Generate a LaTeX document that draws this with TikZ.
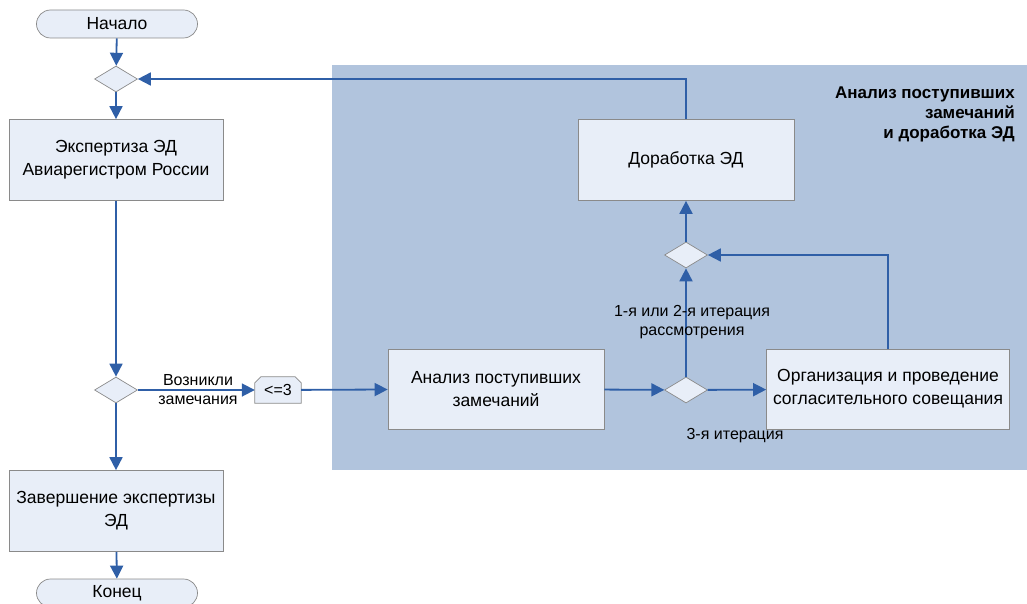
\documentclass[tikz,border=0pt]{standalone}
\usepackage{fontspec}
\setmainfont{Liberation Sans}
\usetikzlibrary{arrows.meta,calc,shapes.geometric}
\definecolor{arr}{HTML}{2F5FA7}
\definecolor{boxfill}{HTML}{E8EEF8}
\definecolor{boxline}{HTML}{8A8A8A}
\definecolor{zone}{HTML}{B1C4DD}
\tikzset{
  flow/.style={draw=arr,line width=1.8pt,-{Triangle[length=13pt,width=13pt]}},
  procbox/.style={draw=boxline,fill=boxfill,line width=0.7pt,minimum width=214pt,minimum height=81pt,align=center,font=\fontsize{17.5}{23}\selectfont,inner sep=0pt},
  term/.style={draw=boxline,fill=boxfill,line width=0.7pt,minimum width=161pt,minimum height=28pt,rounded corners=14pt,font=\fontsize{17.5}{20}\selectfont,inner sep=0pt},
  dec/.style={draw=boxline,fill=boxfill,line width=0.7pt,shape=diamond,aspect=1.65,minimum width=43pt,minimum height=26pt,inner sep=0pt},
  lbl/.style={align=center,font=\fontsize{16}{19}\selectfont,inner sep=0pt},
  limtext/.style={minimum width=46pt,minimum height=26pt,inner sep=0pt,font=\fontsize{16}{18}\selectfont},
}
\begin{document}
\begin{tikzpicture}[x=1pt,y=-1pt]
\useasboundingbox (0,0) rectangle (1027,604);
\fill[zone] (332,65) rectangle (1027,470);
\node[term] (start) at (117,24) {Начало};
\node[dec] (d1) at (116,79) {};
\node[procbox] (exp) at (116,160) {Экспертиза ЭД\\Авиарегистром России};
\node[dec] (d2) at (116,390) {};
\node[procbox] (fin) at (116,511) {Завершение экспертизы\\ЭД};
\node[term] (end) at (117,593) {Конец};
\node[limtext] (lim) at (278,390) {};
\fill[boxfill,draw=boxline,line width=0.7pt] (lim.south west) -- ($(lim.north west)+(0,6)$) -- ($(lim.north west)+(6,0)$) -- ($(lim.north east)+(-6,0)$) -- ($(lim.north east)+(0,6)$) -- (lim.south east) -- cycle;
\node[limtext] (limlabel) at (lim) {<=3};
\node[procbox,minimum width=216pt,minimum height=80pt] (an) at (496,389) {Анализ поступивших\\замечаний};
\node[dec] (d3) at (686,390) {};
\node[procbox,minimum width=243pt,minimum height=80pt] (org) at (888,389) {Организация и проведение\\согласительного совещания};
\node[dec] (d4) at (686,255) {};
\node[procbox,minimum width=216pt,minimum height=81pt] (dor) at (686,160) {Доработка ЭД};
\node[align=right,anchor=north east,font=\fontsize{17}{20}\selectfont\bfseries,inner sep=0pt] (title) at (1015,87) {Анализ поступивших\\замечаний\\и доработка ЭД};
\draw[flow] (start) -- (d1);
\draw[flow] (d1) -- (exp);
\draw[flow] (exp) -- (d2);
\draw[flow] (d2) -- (fin);
\draw[flow] (fin) -- (end);
\draw[flow] (d2) -- (lim);
\draw[flow] (lim) -- (an);
\draw[flow] (an) -- (d3);
\draw[flow] (d3) -- (org);
\draw[flow] (d3) -- (d4);
\draw[flow] (d4) -- (dor);
\draw[flow] (org.north -| 888,0) |- (d4.east);
\draw[flow] (dor.north) |- (d1.east);
\node[lbl] (l1) at (198,390) {Возникли\\замечания};
\node[lbl] (l2) at (692,322) {1-я или 2-я итерация\\рассмотрения};
\node[lbl] (l3) at (735,436) {3-я итерация};
\end{tikzpicture}
\end{document}
